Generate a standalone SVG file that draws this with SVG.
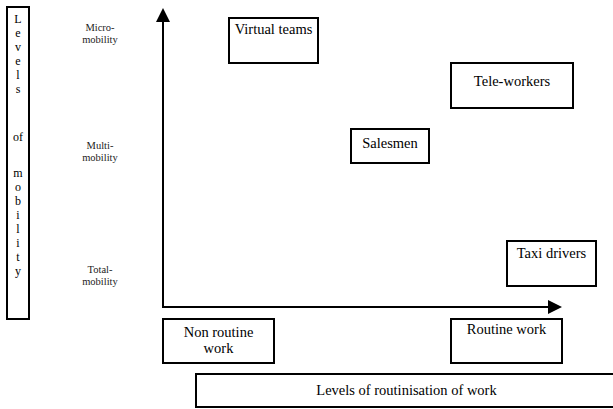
<svg xmlns="http://www.w3.org/2000/svg" width="613" height="409" viewBox="0 0 613 409">
<style>
text{font-family:'Liberation Serif','DejaVu Serif',serif;fill:#000}
.n{font-size:14.5px;text-anchor:middle}
.s{font-size:10.5px;text-anchor:middle;fill:#222}
.v{font-size:12px;text-anchor:middle}
.b{fill:#fff;stroke:#000;stroke-width:2}
.ax{stroke:#000;stroke-width:2;fill:none}
</style>
<rect width="613" height="409" fill="#fff"/>
<g id="connectors">
<line class="ax" x1="163" y1="307" x2="163" y2="22"/>
<path d="M156,22 L163,8 L170,22 Z" fill="#000"/>
<line class="ax" x1="162" y1="307" x2="548" y2="307"/>
<path d="M548,300 L562,307 L548,314 Z" fill="#000"/>
</g>
<g id="y-axis-title">
<rect class="b" x="7" y="7" width="22" height="312"/>
<text class="v" x="18" y="23">L</text>
<text class="v" x="18" y="37">e</text>
<text class="v" x="18" y="51">v</text>
<text class="v" x="18" y="65">e</text>
<text class="v" x="18" y="79">l</text>
<text class="v" x="18" y="93">s</text>
<text class="v" x="18" y="141">of</text>
<text class="v" x="18" y="177">m</text>
<text class="v" x="18" y="191">o</text>
<text class="v" x="18" y="205">b</text>
<text class="v" x="18" y="219">i</text>
<text class="v" x="18" y="233">l</text>
<text class="v" x="18" y="247">i</text>
<text class="v" x="18" y="261">t</text>
<text class="v" x="18" y="275">y</text>
</g>
<g id="label-micro">
<text class="s" x="100" y="31">Micro-</text>
<text class="s" x="100" y="43">mobility</text>
</g>
<g id="label-multi">
<text class="s" x="100" y="149">Multi-</text>
<text class="s" x="100" y="161">mobility</text>
</g>
<g id="label-total">
<text class="s" x="100" y="273">Total-</text>
<text class="s" x="100" y="285">mobility</text>
</g>
<g id="virtual-teams">
<rect class="b" x="229" y="18" width="89" height="45"/>
<text class="n" x="273.5" y="34">Virtual teams</text>
</g>
<g id="tele-workers">
<rect class="b" x="451" y="63" width="122" height="45"/>
<text class="n" x="512" y="86">Tele-workers</text>
</g>
<g id="salesmen">
<rect class="b" x="351" y="129" width="78" height="34"/>
<text class="n" x="390" y="148">Salesmen</text>
</g>
<g id="taxi-drivers">
<rect class="b" x="507" y="241" width="89" height="45"/>
<text class="n" x="551.5" y="258">Taxi drivers</text>
</g>
<g id="non-routine-work">
<rect class="b" x="163" y="319" width="111" height="44"/>
<text class="n" x="218.5" y="337">Non routine</text>
<text class="n" x="218.5" y="353">work</text>
</g>
<g id="routine-work">
<rect class="b" x="451" y="319" width="111" height="44"/>
<text class="n" x="506.5" y="334">Routine work</text>
</g>
<g id="x-axis-title">
<rect class="b" x="196" y="374" width="420" height="33"/>
<text class="n" x="406.5" y="395">Levels of routinisation of work</text>
</g>
</svg>
